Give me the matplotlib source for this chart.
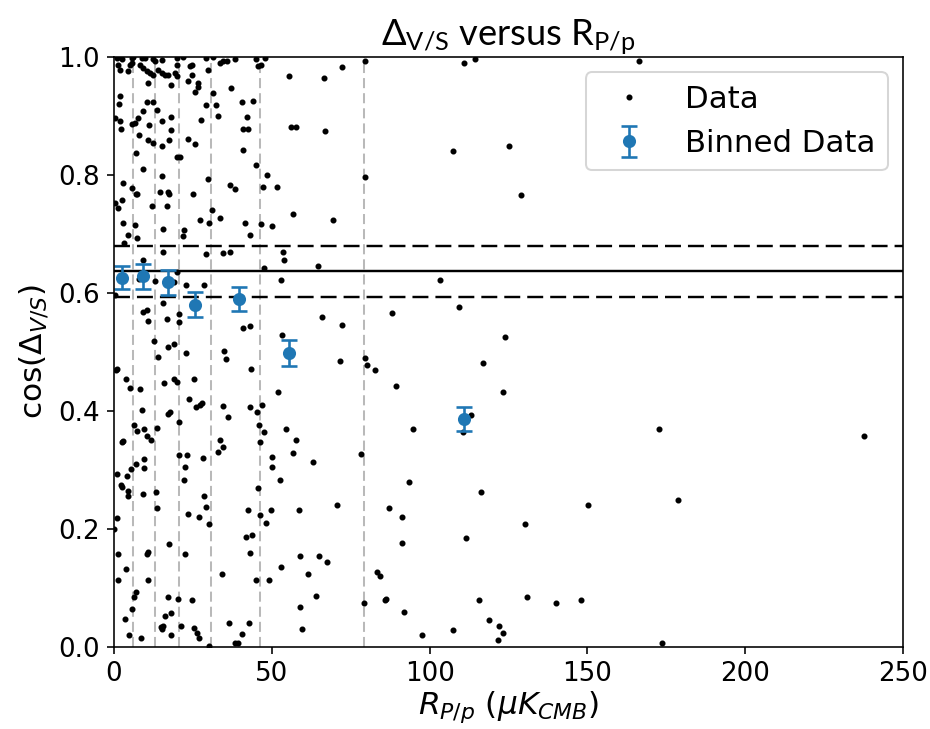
import matplotlib
matplotlib.use("Agg")
import matplotlib.pyplot as plt

# ---------------------------------------------------------------------------
# Data (R_P/p in uK_CMB, cos(Delta_V/S))

r_pp = [
    0.8, 1.9, 2.4, 5.6, 6.1, 8.8, 9.8, 12.4, 13.0, 15.1, 19.8, 21.9, 29.3, 31.4, 33.5, 34.6, 35.7, 38.3, 45.1,
    1.4, 5.1, 5.6, 8.2, 9.3, 10.3, 11.4, 12.4, 14.0, 15.1, 16.1, 17.2, 19.3, 19.8, 19.8, 24.1, 24.6, 1.9, 4.5, 24.6, 29.9,
    10.9, 18.2, 23.5, 26.7, 26.7, 37.2, 25.6, 31.4,
    1.9, 1.7, 10.3, 12.4, 13.5, 9.1, 29.3, 32.3, 40.4, 44.1,
    0.3, 1.9, 2.1, 5.6, 6.6, 7.7, 11.2, 15.1, 18.2, 18.2, 27.7, 33.0, 42.0, 40.9, 42.5,
    8.0, 10.9, 12.4, 15.1, 17.5, 23.5, 25.6, 40.9, 7.0, 19.8, 20.9, 45.1,
    9.1, 15.1, 29.9, 36.7, 38.3, 2.7, 5.6, 7.0, 7.4, 14.6, 17.2, 17.5, 25.1,
    0.3, 2.4, 1.4, 11.9, 16.7,
    30.9, 33.5, 2.7, 6.6, 27.2, 30.2, 41.5, 4.5, 7.2, 43.0, 15.6, 22.3, 21.7, 3.2,
    15.6, 29.1, 34.4, 36.7, 9.1, 8.0, 13.0, 19.8, 19.0, 22.8, 28.5, 0.2,
    15.4, 10.3, 9.3, 10.9, 16.7, 20.6, 20.7, 40.9, 43.0, 12.7, 17.2, 19.0, 22.8, 13.8, 34.9, 35.4,
    0.6, 1.1, 3.8, 5.1, 8.2, 15.9, 19.0, 20.1, 25.4, 43.3,
    23.8, 26.0, 27.2, 27.9, 34.6, 43.0, 45.4, 8.8, 17.0, 17.7, 20.7, 36.0,
    6.3, 7.4, 9.5, 10.5, 11.6, 13.7, 46.0, 2.4, 2.7, 33.5, 34.4, 33.0,
    20.6, 23.0, 28.3, 9.5, 6.9, 9.5, 5.3, 22.6, 0.8, 4.0, 22.2, 2.2, 2.6,
    4.5, 4.5, 9.3, 13.2, 28.5, 45.7, 13.7, 29.3, 42.5,
    0.8, 0.1, 23.5, 26.8, 30.2, 46.2, 41.7, 43.7, 43.1, 17.4, 1.4, 10.3, 10.9, 22.5,
    3.8, 1.2, 10.9, 34.3, 45.1, 7.0, 6.2, 5.8, 17.1, 20.4, 24.8, 16.1, 18.0, 3.6,
    14.9, 15.2, 15.5, 21.1, 25.2, 26.4, 26.8, 36.5, 42.9, 40.5, 38.3, 39.3, 4.7, 8.4, 18.2, 30.2,
    47.8, 45.7, 46.5, 55.5, 66.5, 72.2, 79.6, 56.2, 57.6, 67.0, 48.6, 79.6, 47.3, 51.7,
    56.8, 69.4, 46.7, 49.9, 53.6, 54.0, 47.5, 64.7, 53.0, 65.9, 72.3, 88.2, 53.1, 79.4,
    71.7, 80.2, 82.6, 89.4, 51.8, 47.0, 47.5, 54.6, 57.8, 46.2, 56.8, 50.1, 62.9, 78.4, 50.0, 52.7, 93.5, 70.5, 58.5, 49.6, 87.1,
    48.3, 91.4, 91.3, 59.0, 65.1, 67.6, 52.8, 61.5, 49.1, 83.4, 84.4, 63.9, 59.0, 79.2, 85.8, 86.1, 91.8, 59.6,
    111.0, 114.4, 166.5, 107.4, 125.3, 129.0, 103.4, 109.3, 124.0,
    116.9, 123.4, 113.2, 110.5, 94.7, 116.4, 150.3, 130.2, 111.6, 115.5, 130.8, 140.1, 148.1, 118.8, 122.1, 123.4, 121.7, 97.7, 107.5,
    172.6, 178.6, 237.6, 173.6,
]

cos_vs = [
    0.998, 1.0, 0.997, 0.998, 1.0, 0.998, 0.998, 0.996, 0.993, 0.995, 0.998, 1.0, 0.998, 1.0, 0.990, 0.993, 0.994, 0.996, 0.996,
    0.987, 0.987, 0.990, 0.987, 0.981, 0.976, 0.973, 0.970, 0.978, 0.973, 0.970, 0.970, 0.973, 0.967, 0.987, 0.984, 0.987, 0.978, 0.976, 0.970, 0.978,
    0.956, 0.953, 0.959, 0.956, 0.950, 0.947, 0.940, 0.939,
    0.934, 0.921, 0.924, 0.923, 0.911, 0.908, 0.919, 0.919, 0.924, 0.925,
    0.896, 0.891, 0.878, 0.887, 0.888, 0.896, 0.884, 0.891, 0.898, 0.877, 0.894, 0.900, 0.899, 0.878, 0.878,
    0.868, 0.860, 0.855, 0.849, 0.860, 0.861, 0.852, 0.843, 0.837, 0.831, 0.830, 0.817,
    0.810, 0.799, 0.793, 0.783, 0.776, 0.786, 0.778, 0.768, 0.767, 0.772, 0.772, 0.768, 0.768,
    0.752, 0.758, 0.744, 0.748, 0.747,
    0.741, 0.727, 0.718, 0.715, 0.723, 0.719, 0.719, 0.698, 0.694, 0.698, 0.709, 0.707, 0.697, 0.684,
    0.669, 0.666, 0.668, 0.670, 0.656, 0.624, 0.620, 0.635, 0.619, 0.614, 0.614, 0.596,
    0.583, 0.572, 0.567, 0.553, 0.556, 0.564, 0.551, 0.541, 0.544, 0.519, 0.509, 0.513, 0.498, 0.492, 0.501, 0.488,
    0.469, 0.471, 0.455, 0.439, 0.437, 0.447, 0.454, 0.449, 0.454, 0.471,
    0.420, 0.407, 0.411, 0.413, 0.409, 0.406, 0.399, 0.402, 0.395, 0.399, 0.382, 0.389,
    0.376, 0.366, 0.370, 0.358, 0.350, 0.372, 0.376, 0.347, 0.349, 0.351, 0.339, 0.330,
    0.325, 0.325, 0.321, 0.318, 0.311, 0.303, 0.302, 0.305, 0.294, 0.289, 0.283, 0.275, 0.272,
    0.265, 0.256, 0.259, 0.263, 0.256, 0.269, 0.236, 0.237, 0.233,
    0.218, 0.200, 0.226, 0.221, 0.208, 0.223, 0.186, 0.189, 0.160, 0.175, 0.157, 0.157, 0.161, 0.158,
    0.133, 0.114, 0.114, 0.124, 0.114, 0.094, 0.085, 0.064, 0.084, 0.082, 0.080, 0.053, 0.057, 0.048,
    0.034, 0.031, 0.036, 0.035, 0.033, 0.024, 0.015, 0.041, 0.040, 0.022, 0.006, 0.006, 0.020, 0.016, 0.021, 0.002,
    0.999, 0.985, 0.987, 0.967, 0.964, 0.983, 0.993, 0.882, 0.881, 0.874, 0.800, 0.797, 0.779, 0.779,
    0.734, 0.723, 0.717, 0.713, 0.669, 0.656, 0.643, 0.645, 0.622, 0.559, 0.546, 0.566, 0.529, 0.489,
    0.484, 0.478, 0.469, 0.443, 0.433, 0.411, 0.365, 0.369, 0.350, 0.348, 0.328, 0.322, 0.313, 0.327, 0.305, 0.283, 0.279, 0.241, 0.233, 0.233, 0.235,
    0.211, 0.221, 0.177, 0.154, 0.155, 0.144, 0.136, 0.123, 0.114, 0.127, 0.121, 0.086, 0.068, 0.075, 0.079, 0.081, 0.059, 0.031,
    0.989, 0.997, 0.994, 0.840, 0.849, 0.766, 0.622, 0.576, 0.525,
    0.482, 0.433, 0.393, 0.365, 0.369, 0.263, 0.241, 0.208, 0.185, 0.080, 0.085, 0.075, 0.080, 0.045, 0.036, 0.023, 0.012, 0.020, 0.029,
    0.369, 0.249, 0.357, 0.007,
]

# binned means
bin_x   = [2.5, 9.3, 17.0, 25.6, 39.7, 55.4, 110.8]
bin_y   = [0.626, 0.628, 0.618, 0.580, 0.590, 0.499, 0.386]
bin_err = [0.020, 0.021, 0.021, 0.021, 0.020, 0.022, 0.020]

bin_edges = [6.1, 13.0, 20.6, 30.7, 46.2, 79.2]

mean_cos = 0.637
std_cos  = 0.043

# ---------------------------------------------------------------------------
# Plot

dpi = 145
fig, ax = plt.subplots(figsize=(930 / dpi, 729 / dpi), dpi=dpi)
fig.subplots_adjust(left=0.1226, right=0.971, top=0.9218, bottom=0.1125)

for edge in bin_edges:
    ax.axvline(edge, color="gray", lw=1.0, alpha=0.55, ls=(0, (5, 2.5)))

ax.axhline(mean_cos, color="k", lw=1.2)
ax.axhline(mean_cos + std_cos, color="k", lw=1.2, ls=(0, (6.6, 2.9)))
ax.axhline(mean_cos - std_cos, color="k", lw=1.2, ls=(0, (6.6, 2.9)))

ax.plot(r_pp, cos_vs, "k.", markersize=4, label="Data")
ax.errorbar(bin_x, bin_y, yerr=bin_err, fmt="o", color="C0",
            markersize=5.5, capsize=4, elinewidth=1.3, capthick=1.3,
            label="Binned Data")

ax.set_xlim(0, 250)
ax.set_ylim(0, 1)
ax.tick_params(labelsize=13)
ax.set_xlabel(r"$R_{P/p}$ ($\mu K_{CMB}$)", fontsize=15.5, labelpad=1)
ax.set_ylabel(r"cos($\Delta_{V/S}$)", fontsize=15.5)
ax.set_title(r"$\mathregular{\Delta_{V/S}}$ versus $\mathregular{R_{P/p}}$",
             fontsize=18, family=["Lato", "DejaVu Sans"], pad=6)
ax.legend(loc="upper right", fontsize=15.3)

fig.savefig("out.png", dpi=dpi)
